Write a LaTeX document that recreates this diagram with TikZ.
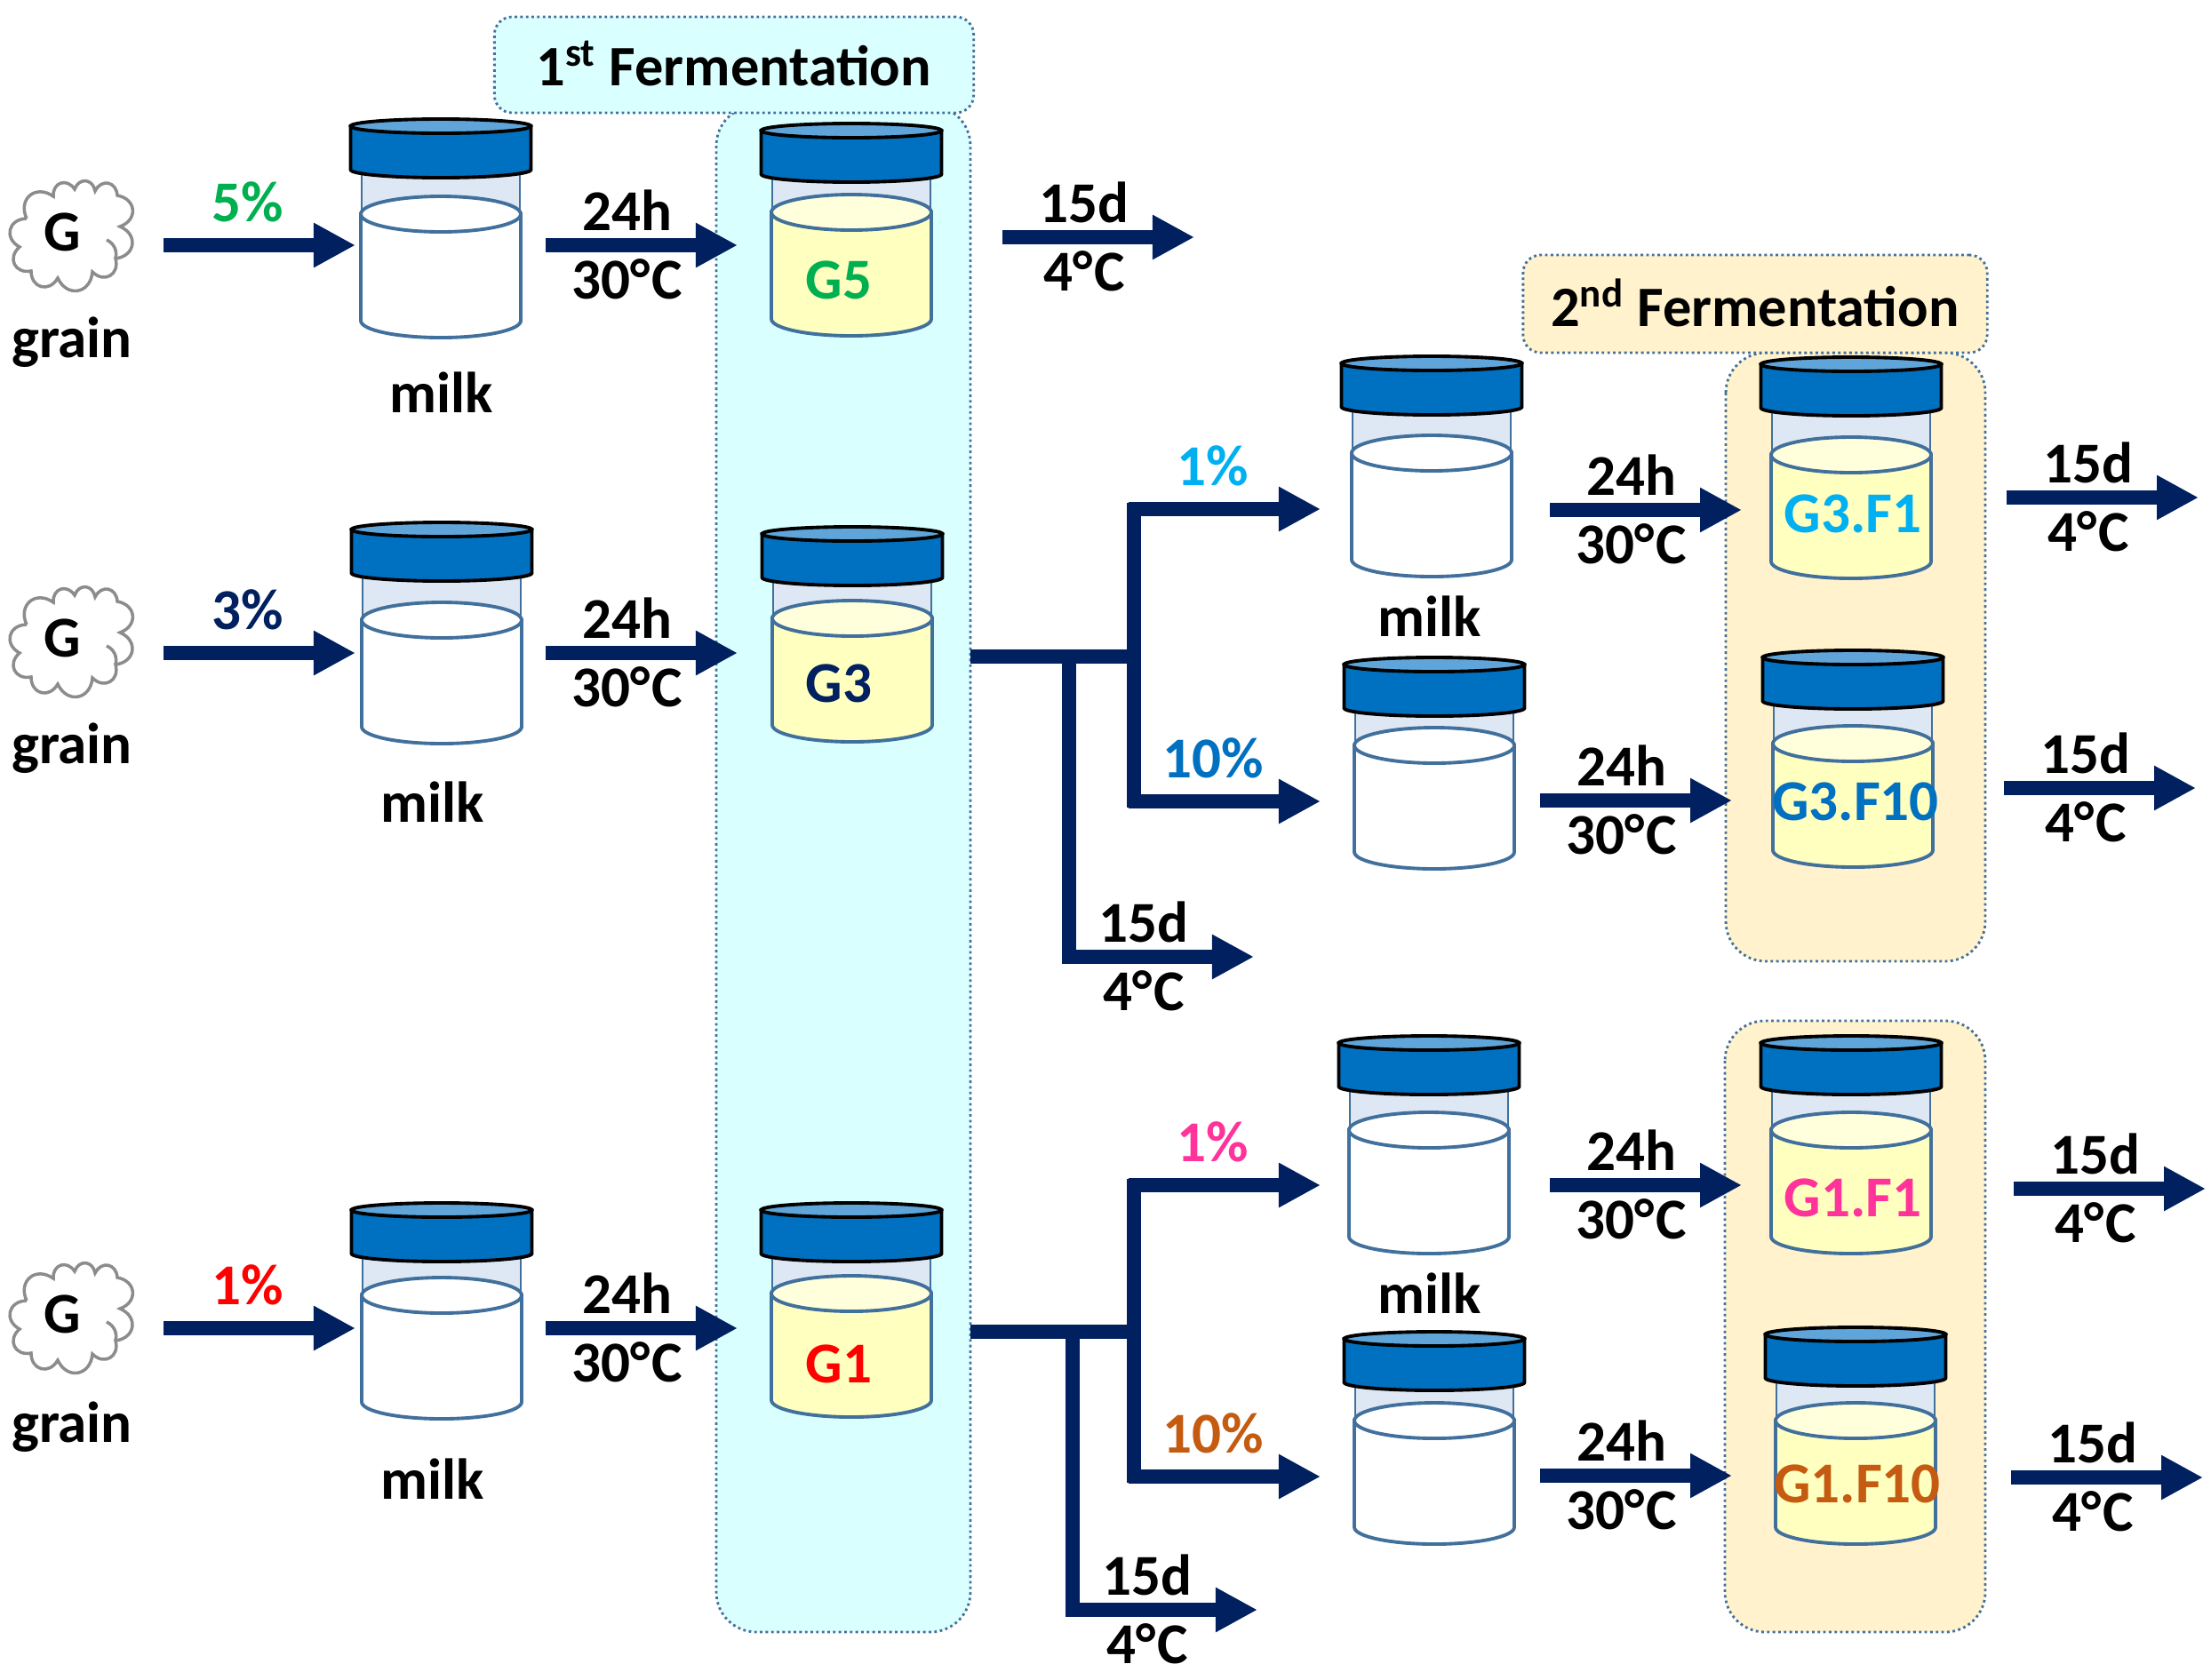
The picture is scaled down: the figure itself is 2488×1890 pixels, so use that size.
\documentclass[tikz,border=0pt]{standalone}
\usepackage{fontspec}
\setmainfont{Carlito}
\usetikzlibrary{arrows.meta}

\definecolor{navy}{HTML}{002060}
\definecolor{lidblue}{HTML}{0070C0}
\definecolor{lidtop}{HTML}{5FA5D9}
\definecolor{glass}{HTML}{DEE8F4}
\definecolor{rim}{HTML}{41709C}
\definecolor{kefir}{HTML}{FFFFC0}
\definecolor{kefirtop}{HTML}{FFFFDC}
\definecolor{firstbg}{HTML}{DAFFFF}
\definecolor{secondbg}{HTML}{FFF2CC}
\definecolor{pct green}{HTML}{00B050}
\definecolor{pct sky}{HTML}{00B0F0}
\definecolor{pct pink}{HTML}{FF3399}
\definecolor{pct rust}{HTML}{C55A11}

\tikzset{
  txt/.style={font=\fontsize{18.5}{20}\selectfont\bfseries, inner sep=0pt, yshift=0.01cm},
  title/.style={font=\fontsize{18.3}{20}\selectfont\bfseries, inner sep=0pt},
  panel/.style={draw=rim, densely dotted, line width=0.8pt, rounded corners=0.45cm},
  flow/.style={draw=navy, line width=0.155cm, -{Triangle[length=0.47cm,width=0.47cm]}},
  stem/.style={draw=navy, line width=0.155cm},
  puff/.style={draw=gray!90, line width=1pt, bend left=75, looseness=1.6},
}

% name, x, y
\newcommand{\grain}[3]{
  \begin{scope}[shift={(#2,#3)}]
    \coordinate (#1) at (0,0);
    \draw[puff] (-52,-21) to (-22,-46) to (2,-54) to (25,-52) to (50,-47) to (53,-12)
      to (48,24) to (22,39) to (-17,46) to (-47,38) to (-60,11) to (-52,-21);
    \draw[puff, bend left=40, looseness=1] (38,3) to (48,24);
  \end{scope}
}
% name, x, lid top y, liquid level y, liquid, liquid top
\newcommand{\jar}[6]{
  \begin{scope}[shift={(#2,0)}]
    \coordinate (#1) at (0,#4);
    \draw[rim, line width=0.8pt, fill=glass] (-89,#3+60) rectangle (89,#4);
    \draw[rim, line width=1.1pt, fill=#5] (-90,#4) -- (-90,#4+120) arc[start angle=180, end angle=0, x radius=90, y radius=19] -- (90,#4) -- cycle;
    \draw[rim, line width=1.1pt, fill=#6] (#1) ellipse[x radius=90, y radius=20];
    \draw[black, line width=1.1pt, fill=lidblue] (-101.5,#3+9) -- (-101.5,#3+58) arc[start angle=180, end angle=0, x radius=101.5, y radius=9] -- (101.5,#3+9) -- cycle;
    \draw[black, line width=1.1pt, fill=lidtop] (0,#3+9) ellipse[x radius=101.5, y radius=8];
  \end{scope}
}
% name, x start, y, text, colour
\newcommand{\dose}[5]{
  \coordinate (#1s) at (#2,#3);
  \coordinate (#1e) at (#2+216,#3);
  \draw[flow] (#1s) -- (#1e);
  \node[txt, text=#5] (#1t) at (#2+95,#3-48) {#4};
}
% name, x start, y, top text, bottom text
\newcommand{\hold}[5]{
  \coordinate (#1s) at (#2,#3);
  \coordinate (#1e) at (#2+216,#3);
  \draw[flow] (#1s) -- (#1e);
  \node[txt] (#1a) at (#2+92,#3-38) {#4};
  \node[txt] (#1b) at (#2+92,#3+39) {#5};
}
\newcommand{\degC}{°\kern0.03em C}

\begin{document}
\begin{tikzpicture}[x=0.01cm, y=-0.01cm]
\useasboundingbox (0,0) rectangle (2488,1890);

% backgrounds
\draw[panel, fill=firstbg] (806,119) rectangle (1092,1837);
\draw[panel, fill=secondbg] (1942,397) rectangle (2234,1082);
\draw[panel, fill=secondbg] (1941,1149) rectangle (2234,1837);
\node[panel, fill=firstbg, title, rounded corners=0.2cm, minimum width=5.39cm, minimum height=1.08cm] (first) at (826,73) {\raisebox{0.03cm}{1\textsuperscript{st} Fermentation}};
\node[panel, fill=secondbg, title, rounded corners=0.2cm, minimum width=5.22cm, minimum height=1.1cm] (second) at (1975,342) {\raisebox{0.03cm}{2\textsuperscript{nd} Fermentation}};

% grains
\grain{c5}{82}{267}
\grain{c3}{82}{724}
\grain{c1}{82}{1485}
\node[txt] (c5g) at (70,262) {G};
\node[txt] (c3g) at (70,719) {G};
\node[txt] (c1g) at (70,1480) {G};
\node[txt] (c5n) at (81,386) {grain};
\node[txt] (c3n) at (81,843) {grain};
\node[txt] (c1n) at (81,1607) {grain};

% jars
\jar{m5}{496}{133}{241}{white}{white}
\jar{m3}{497}{587}{698}{white}{white}
\jar{m1}{497}{1353}{1458}{white}{white}
\jar{j5}{958}{138}{239}{kefir}{kefirtop}
\jar{j3}{959}{592}{696}{kefir}{kefirtop}
\jar{j1}{958}{1353}{1456}{kefir}{kefirtop}
\jar{m31}{1611}{400}{510}{white}{white}
\jar{m310}{1614}{739}{839}{white}{white}
\jar{m11}{1608}{1165}{1272}{white}{white}
\jar{m110}{1614}{1498}{1599}{white}{white}
\jar{j31}{2083}{401}{512}{kefir}{kefirtop}
\jar{j310}{2085}{731}{837}{kefir}{kefirtop}
\jar{j11}{2083}{1165}{1272}{kefir}{kefirtop}
\jar{j110}{2088}{1493}{1599}{kefir}{kefirtop}

\node[txt] (m5n) at (497,443) {milk};
\node[txt] (m3n) at (487,904) {milk};
\node[txt] (m1n) at (487,1666) {milk};
\node[txt] (m31n) at (1609,695) {milk};
\node[txt] (m11n) at (1609,1457) {milk};

\node[txt, text=pct green] (j5n) at (944,316) {G5};
\node[txt, text=navy] (j3n) at (944,770) {G3};
\node[txt, text=red] (j1n) at (944,1536) {G1};
\node[txt, text=pct sky] (j31n) at (2085,579) {G3.F1};
\node[txt, text=lidblue] (j310n) at (2088,903) {G3.F10};
\node[txt, text=pct pink] (j11n) at (2085,1349) {G1.F1};
\node[txt, text=pct rust] (j110n) at (2090,1671) {G1.F10};

% inoculation
\dose{d5}{184}{276}{5\%}{pct green}
\dose{d3}{184}{735}{3\%}{navy}
\dose{d1}{184}{1495}{1\%}{red}

% first fermentation
\hold{a5}{614}{276}{24h}{30\degC}
\hold{a3}{614}{735}{24h}{30\degC}
\hold{a1}{614}{1495}{24h}{30\degC}
\hold{s5}{1128}{267}{15d}{4\degC}

% branches
\coordinate (b3o) at (1092,739);
\coordinate (b3h) at (1276,739);
\coordinate (b3u) at (1276,566);
\coordinate (b3d) at (1276,909);
\coordinate (b3v) at (1203,739);
\coordinate (b3w) at (1203,1084);
\draw[stem] (b3o) -- (b3h);
\draw[stem] (b3u) -- (b3d);
\draw[stem] (b3v) -- (b3w);
\coordinate (b1o) at (1092,1499);
\coordinate (b1h) at (1276,1499);
\coordinate (b1u) at (1276,1327);
\coordinate (b1d) at (1276,1669);
\coordinate (b1v) at (1207,1499);
\coordinate (b1w) at (1207,1819);
\draw[stem] (b1o) -- (b1h);
\draw[stem] (b1u) -- (b1d);
\draw[stem] (b1v) -- (b1w);

\dose{d31}{1270}{573}{1\%}{pct sky}
\dose{d310}{1270}{902}{10\%}{lidblue}
\dose{d11}{1270}{1334}{1\%}{pct pink}
\dose{d110}{1270}{1662}{10\%}{pct rust}
\hold{s3}{1195}{1077}{15d}{4\degC}
\hold{s1}{1199}{1812}{15d}{4\degC}

% second fermentation
\hold{a31}{1744}{574}{24h}{30\degC}
\hold{a310}{1733}{901}{24h}{30\degC}
\hold{a11}{1744}{1334}{24h}{30\degC}
\hold{a110}{1733}{1661}{24h}{30\degC}
\hold{s31}{2258}{560}{15d}{4\degC}
\hold{s310}{2255}{887}{15d}{4\degC}
\hold{s11}{2266}{1338}{15d}{4\degC}
\hold{s110}{2263}{1663}{15d}{4\degC}
\end{tikzpicture}
\end{document}
